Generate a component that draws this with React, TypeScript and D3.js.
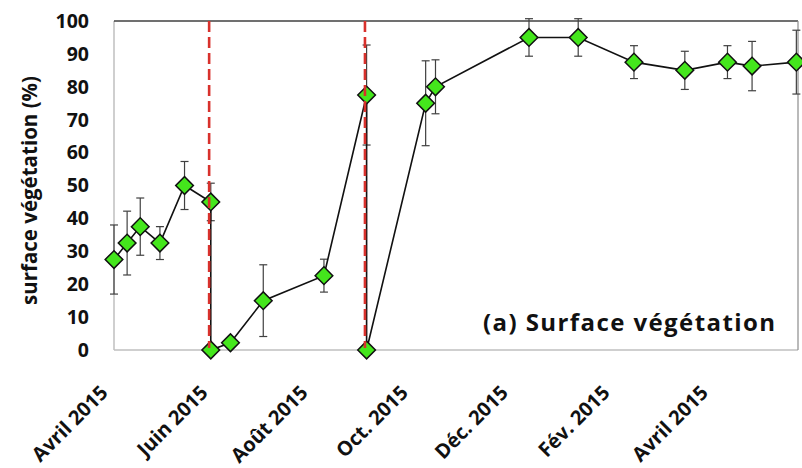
import React from "react";
import * as d3 from "d3";

const dates = ["2015-04-04","2015-04-12","2015-04-20","2015-05-02","2015-05-17","2015-06-02","2015-06-02","2015-06-14","2015-07-04","2015-08-10","2015-09-05","2015-09-05","2015-10-11","2015-10-17","2015-12-13","2016-01-12","2016-02-15","2016-03-17","2016-04-12","2016-04-27","2016-05-24"];
const values = [27.5, 32.5, 37.5, 32.5, 50, 45, 0, 2.2, 15, 22.6, 77.5, 0, 75, 80, 95, 95, 87.5, 85, 87.5, 86.3, 87.5];
const errors = [10.5, 9.7, 8.7, 5, 7.3, 5.7, 0, 0, 10.9, 5, 15.2, 0, 12.9, 8.2, 5.7, 5.7, 5, 5.8, 5, 7.5, 9.7];
const cutDates = ["2015-06-01", "2015-09-04"];
const xTickDates = ["2015-04-01","2015-06-01","2015-08-01","2015-10-01","2015-12-01","2016-02-01","2016-04-01"];
const xTickLabels = ["Avril 2015","Juin 2015","Août 2015","Oct. 2015","Déc. 2015","Fév. 2015","Avril 2015"];
const yTicks = [0, 10, 20, 30, 40, 50, 60, 70, 80, 90, 100];
const domainDates = ["2015-04-04", "2016-05-25"];

const parse = d3.timeParse("%Y-%m-%d");

export default function App() {
  const left = 114, right = 798, top = 21, bottom = 350;
  const x = d3.scaleTime().domain(domainDates.map((d) => parse(d) as Date)).range([left, right]);
  const y = d3.scaleLinear().domain([0, 100]).range([bottom, top]);
  const pts = dates.map((d, i) => ({ x: x(parse(d) as Date), y: y(values[i]), v: values[i], e: errors[i] }));
  const line = d3.line<any>().x((p) => p.x).y((p) => p.y);
  const diamond = d3.symbol().type(d3.symbolSquare).size(156)();
  const font = "'Open Sans', sans-serif";
  return (
    <svg width={802} height={468} style={{ position: "absolute", left: 0, top: 0, background: "#fff" }}>
      <rect x={0} y={0} width={802} height={468} fill="#fff" />
      {/* frame */}
      <line x1={left} x2={left} y1={top} y2={bottom} stroke="#bfbfbf" strokeWidth={1.5} />
      <line x1={left} x2={right} y1={bottom} y2={bottom} stroke="#bfbfbf" strokeWidth={1.5} />
      <line x1={left} x2={right} y1={top} y2={top} stroke="#404040" strokeWidth={1.5} />
      <line x1={right} x2={right} y1={top} y2={bottom} stroke="#8c8c8c" strokeWidth={1.2} />
      {/* y ticks */}
      {yTicks.map((t) => (
        <text key={t} x={89} y={y(t)} dy="0.35em" textAnchor="end" fontFamily={font} fontWeight={700} fontSize={19.5} fill="#111">{t}</text>
      ))}
      <text transform={`translate(37, ${(top + bottom) / 2 + 5}) rotate(-90)`} textAnchor="middle" fontFamily={font} fontWeight={700} fontSize={20.5} fill="#111">surface végétation (%)</text>
      {/* x ticks */}
      {xTickDates.map((d, i) => (
        <text key={i} transform={`translate(${x(parse(d) as Date)}, 394) rotate(-45)`} textAnchor="end" fontFamily={font} fontWeight={700} fontSize={20} fill="#111">{xTickLabels[i]}</text>
      ))}
      {/* error bars */}
      {pts.filter((p) => p.e > 0).map((p, i) => (
        <g key={i} stroke="#404040" strokeWidth={1.2}>
          <line x1={p.x} x2={p.x} y1={y(p.v + p.e)} y2={y(p.v - p.e)} />
          <line x1={p.x - 4} x2={p.x + 4} y1={y(p.v + p.e)} y2={y(p.v + p.e)} />
          <line x1={p.x - 4} x2={p.x + 4} y1={y(p.v - p.e)} y2={y(p.v - p.e)} />
        </g>
      ))}
      <path d={line(pts) || ""} fill="none" stroke="#111" strokeWidth={1.6} />
      {pts.map((p, i) => (
        <path key={i} d={diamond || ""} transform={`translate(${p.x},${p.y}) rotate(45)`} fill="#44e61c" stroke="#111" strokeWidth={1.5} />
      ))}
      {cutDates.map((d, i) => (
        <line key={i} x1={x(parse(d) as Date)} x2={x(parse(d) as Date)} y1={top} y2={bottom - 2} stroke="#d8312c" strokeWidth={2.6} strokeDasharray="11,5" />
      ))}
      <text x={775} y={331} textAnchor="end" fontFamily={font} fontWeight={700} fontSize={24} textLength={292} lengthAdjust="spacing" fill="#111">(a) Surface végétation</text>
    </svg>
  );
}
